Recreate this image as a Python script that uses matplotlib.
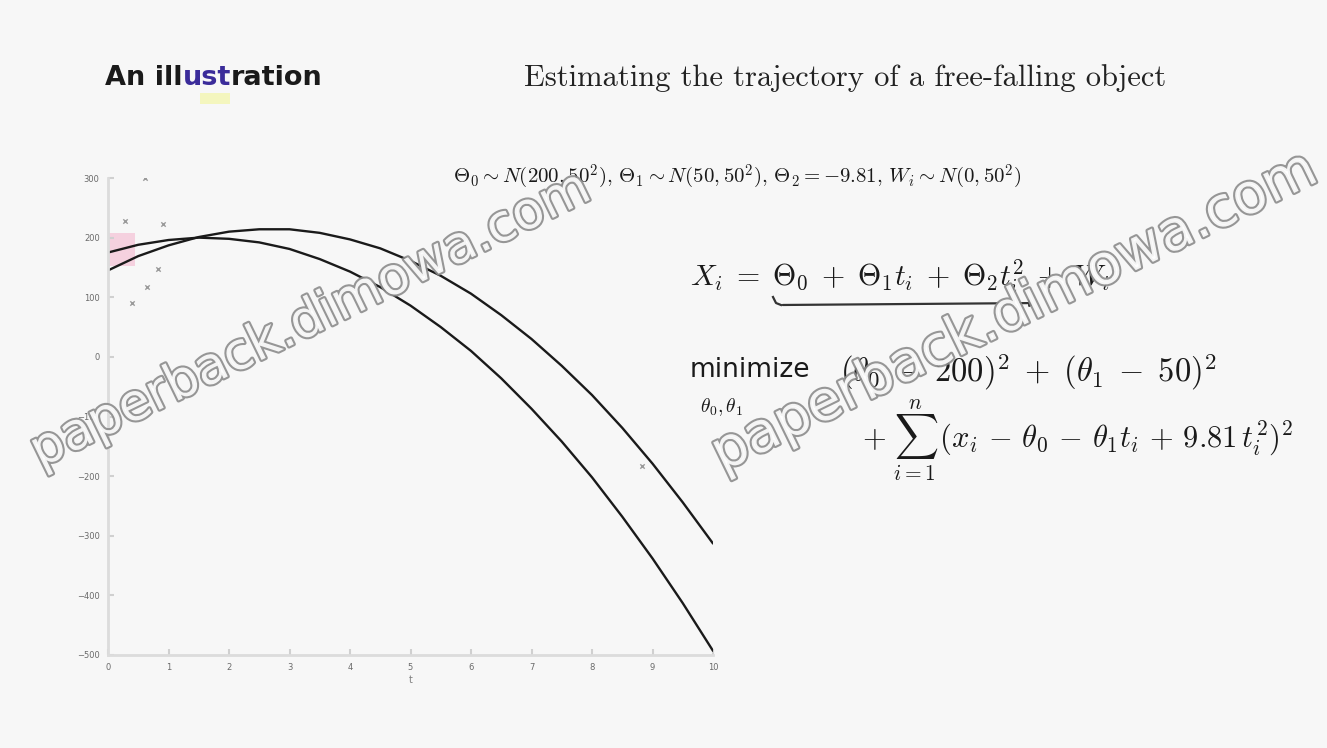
import matplotlib
matplotlib.use("Agg")
import matplotlib.pyplot as plt
from matplotlib import patheffects as pe
from matplotlib.patches import Rectangle, FancyArrowPatch
from matplotlib.lines import Line2D

plt.rcParams['mathtext.fontset'] = 'cm'

# ---- data ----
t_vals = [0, 0.5, 1, 1.5, 2, 2.5, 3, 3.5, 4, 4.5, 5, 5.5, 6, 6.5, 7, 7.5, 8, 8.5, 9, 9.5, 10]
traj_upper = [145, 169, 187, 201, 210, 214, 214, 208, 197, 182, 161, 136, 106, 70, 30,
              -15, -64, -119, -179, -244, -313]
traj_lower = [175, 188, 196, 200, 198, 192, 181, 164, 143, 117, 86, 50, 10, -36, -87,
              -142, -202, -268, -338, -413, -493]
obs_t = [0.28, 0.40, 0.61, 0.64, 0.83, 0.91, 8.83]
obs_x = [228, 90, 300, 117, 148, 223, -183]
x_ticks = [0, 1, 2, 3, 4, 5, 6, 7, 8, 9, 10]
y_ticks = [-500, -400, -300, -200, -100, 0, 100, 200, 300]
title_parts = [('An ill', '#1a1a1a'), ('ust', '#3b2c9a'), ('ration', '#1a1a1a')]

W, H = 1327, 748
fig = plt.figure(figsize=(W / 100, H / 100), dpi=100)
fig.patch.set_facecolor('#f7f7f7')


def fx(x):
    return x / W


def fy(y):
    return 1 - y / H


ax = fig.add_axes([fx(108), fy(655), fx(713) - fx(108), fy(178) - fy(655)])
ax.set_facecolor('none')
ax.plot(t_vals, traj_upper, color='#1a1a1a', lw=1.7, solid_capstyle='round')
ax.plot(t_vals, traj_lower, color='#1a1a1a', lw=1.7, solid_capstyle='round')
ax.scatter(obs_t, obs_x, marker='x', s=10, color='#9a9a9a', lw=1.0, zorder=3)
ax.add_patch(Rectangle((0, 153), 0.45, 55, facecolor='#f5b8d0', alpha=0.6,
                       edgecolor='none', zorder=1))
ax.set_xlim(0, 10)
ax.set_ylim(-500, 300)
ax.set_xticks(x_ticks)
ax.set_yticks(y_ticks)
ax.tick_params(direction='in', length=4, width=1.5, color='#d0d0d0',
               labelsize=6, labelcolor='#6a6a6a', pad=6)
for s in ['top', 'right']:
    ax.spines[s].set_visible(False)
for s in ['left', 'bottom']:
    ax.spines[s].set_color('#dcdcdc')
    ax.spines[s].set_linewidth(2.0)
ax.set_xlabel('t', fontsize=7, color='#808080', labelpad=2)

# ---- slide title with coloured segment ----
renderer = fig.canvas.get_renderer()
x_cursor = fx(105)
for part, col in title_parts:
    txt = fig.text(x_cursor, fy(78), part, fontsize=19.5, fontweight='bold',
                   color=col, va='center', ha='left')
    bb = txt.get_window_extent(renderer=renderer)
    x_cursor += bb.width / W
fig.add_artist(Rectangle((fx(200), fy(104)), fx(30), fy(93) - fy(104),
                         transform=fig.transFigure, facecolor='#f4f6b0',
                         edgecolor='none', alpha=0.8))
fig.text(fx(524), fy(78), 'Estimating the trajectory of a free-falling object',
         fontsize=22, family='cmr10', color='#222222', va='center', ha='left')

eq_kw = dict(color='#1a1a1a', ha='left', va='center')
fig.text(fx(453), fy(177),
         r'$\Theta_0 \sim N(200,50^2),\,\Theta_1 \sim N(50,50^2),\,\Theta_2 = -9.81,\,W_i \sim N(0,50^2)$',
         fontsize=15, **eq_kw)
fig.text(fx(690), fy(277),
         r'$X_i \;=\; \Theta_0 \;+\; \Theta_1 t_i \;+\; \Theta_2 t_i^2 \;+\; W_i$',
         fontsize=21.5, **eq_kw)
fig.text(fx(690), fy(370), 'minimize', fontsize=19, family='DejaVu Sans',
         color='#1a1a1a', ha='left', va='center')
fig.text(fx(840), fy(372),
         r'$(\theta_0 \;-\; 200)^2 \;+\; (\theta_1 \;-\; 50)^2$',
         fontsize=23.5, **eq_kw)
fig.text(fx(700), fy(407), r'$\theta_0,\theta_1$', fontsize=14, **eq_kw)
fig.text(fx(862), fy(440),
         r'$+\;\sum_{i=1}^{n}\,(x_i \,-\, \theta_0 \,-\, \theta_1 t_i \,+\, 9.81\, t_i^2)^2$',
         fontsize=22, **eq_kw)

# hand-drawn arrow under X_i equation
fig.add_artist(FancyArrowPatch(
    (fx(780), fy(305)), (fx(1040), fy(303)), transform=fig.transFigure,
    arrowstyle='-|>', mutation_scale=10, color='#333333', lw=1.6))
fig.add_artist(Line2D([fx(773), fx(776), fx(781)], [fy(297), fy(303), fy(305)],
                      transform=fig.transFigure, color='#333333', lw=1.6))

# watermark
wm_kw = dict(color='white', ha='left', va='baseline',
             rotation_mode='anchor', alpha=0.9,
             path_effects=[pe.withStroke(linewidth=3, foreground='#8c8c8c')])
fig.text(fx(40), fy(468), 'paperback.dimowa.com', fontsize=37, rotation=26, **wm_kw)
fig.text(fx(722), fy(472), 'paperback.dimowa.com', fontsize=40, rotation=26, **wm_kw)

fig.savefig('out.png', dpi=100, facecolor=fig.get_facecolor())
